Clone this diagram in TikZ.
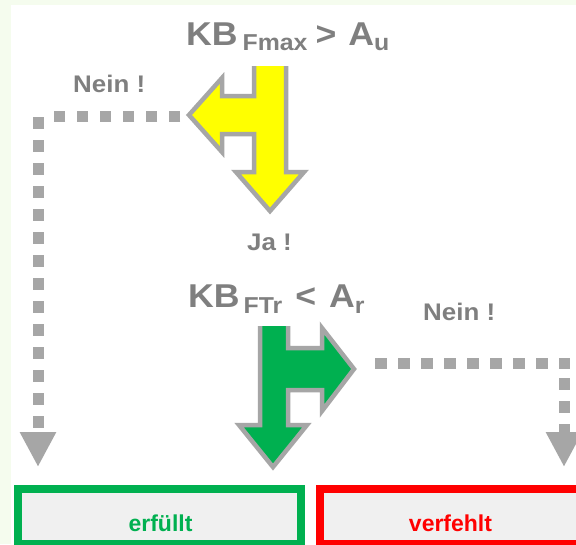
\documentclass[tikz,border=0pt]{standalone}
\usepackage{fontspec}
\setmainfont{Liberation Sans}
\newfontfamily\widefont[FakeStretch=1.08]{Liberation Sans}
\usetikzlibrary{arrows.meta}
\definecolor{txtgray}{RGB}{127,127,127}
\definecolor{lnegray}{RGB}{166,166,166}
\definecolor{okgreen}{RGB}{0,176,80}
\definecolor{ylw}{RGB}{255,255,0}
\definecolor{boxfill}{RGB}{240,240,240}
\definecolor{strip}{RGB}{245,252,238}
\newcommand{\subsz}{\fontsize{23}{23}\selectfont}
\begin{document}
\begin{tikzpicture}[x=1pt,y=-1pt,
  cond/.style={anchor=base west, inner sep=0, text=txtgray, font=\widefont\bfseries\fontsize{33}{33}\selectfont},
  answer/.style={anchor=base west, inner sep=0, text=txtgray, font=\widefont\bfseries\fontsize{24}{24}\selectfont},
  bigarrow/.style={draw=lnegray, line width=4.5pt, line join=miter},
  dots/.style={draw=lnegray, line width=11pt, dash pattern=on 11.5pt off 11.5pt},
  dottip/.style={-{Triangle[width=34pt,length=35pt]}},
  result/.style={line width=8pt, fill=boxfill, inner sep=0pt, minimum height=55pt},
  restext/.style={anchor=base, inner sep=0pt, font=\bfseries\fontsize{23}{23}\selectfont}
]
\useasboundingbox (0,0) rectangle (576,544);
\clip (0,0) rectangle (576,544);
\fill[white] (0,0) rectangle (576,544);
\fill[strip] (0,0) rectangle (11,544);
\fill[strip] (0,0) rectangle (576,5);

% conditions and answers
\node[cond] (c1) at (186,45) {KB\hspace{5pt}\raisebox{-5pt}{\subsz Fmax}\hspace{8pt}>\hspace{12pt}A\raisebox{-5pt}{\subsz u}};
\node[cond] (c2) at (188,307) {KB\hspace{4pt}\raisebox{-6pt}{\subsz FTr}\hspace{13pt}<\hspace{13pt}A\raisebox{-6pt}{\subsz r}};
\node[answer] (nein1) at (73,92) {Nein !};
\node[answer] (ja) at (247,250) {Ja !};
\node[answer] (nein2) at (423,320) {Nein !};

% yellow decision arrow
\fill[ylw] (254,66) -- (286,66) -- (286,172) -- (304,172) -- (270,211) -- (236,172) -- (254,172) -- (254,134) -- (222,134) -- (222,152) -- (189,115) -- (222,78) -- (222,96) -- (254,96) -- cycle;
\draw[bigarrow] (286,66) -- (286,172) -- (304,172) -- (270,211) -- (236,172) -- (254,172) -- (254,134) -- (222,134) -- (222,152) -- (189,115) -- (222,78) -- (222,96) -- (254,96) -- (254,66);

% green decision arrow
\fill[okgreen] (260,326) -- (288,326) -- (288,348) -- (322,348) -- (322,328) -- (354,369) -- (322,411) -- (322,390) -- (288,390) -- (288,425) -- (307,425) -- (273,467) -- (239,425) -- (260,425) -- cycle;
\draw[bigarrow] (288,326) -- (288,348) -- (322,348) -- (322,328) -- (354,369) -- (322,411) -- (322,390) -- (288,390) -- (288,425) -- (307,425) -- (273,467) -- (239,425) -- (260,425) -- (260,326);

% result boxes
\node[result, draw=okgreen, minimum width=283.5pt] (ok) at (159.25,516.5) {};
\node[result, draw=red, minimum width=282.5pt] (fail) at (460.75,516.5) {};
\node[restext, text=okgreen] (oktxt) at (160.5,531) {erfüllt};
\node[restext, text=red] (failtxt) at (450.5,531) {verfehlt};

% dotted connectors
\coordinate (nl1) at (180,116);
\coordinate (nl2) at (52,116);
\coordinate (nl3) at (38,117);
\coordinate (okin) at (38,467);
\coordinate (nr1) at (375,363);
\coordinate (nr2) at (570,363);
\coordinate (nr3) at (564,378);
\coordinate (failin) at (564,467);
\draw[dots] (nl1) -- (nl2);
\draw[dots, dottip] (nl3) -- (okin);
\draw[dots] (nr1) -- (nr2);
\draw[dots, dottip] (nr3) -- (failin);
\end{tikzpicture}
\end{document}
